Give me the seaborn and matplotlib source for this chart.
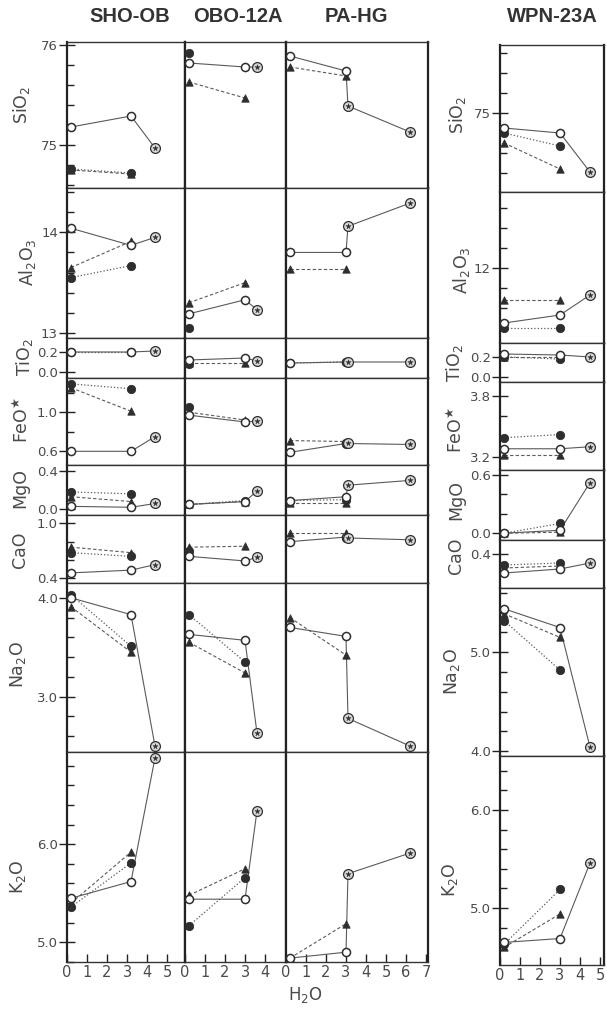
import numpy as np
import seaborn as sns
import matplotlib.pyplot as plt

sns.set_theme(style='white')
plt.rcParams['font.family'] = ['DejaVu Sans']
plt.rcParams['mathtext.fontset'] = 'dejavusans'

W, H = 607, 1010

OXIDE_LABELS = ['SiO$_2$', 'Al$_2$O$_3$', 'TiO$_2$', r'FeO$^{\bigstar}$', 'MgO', 'CaO', 'Na$_2$O', 'K$_2$O']

# H2O of the runs (wt%), star = final circled-star point
SHO_X = [0.2, 3.2]
SHO_STAR_X = [4.4]
OBO_X = [0.2, 3.0]
OBO_STAR_X = [3.6]
PA_X = [0.2, 3.0]
PA_STAR_X = [3.1, 6.2]
WPN_X = [0.2, 3.0]
WPN_STAR_X = [4.5]

nan = np.nan
# order: SiO2, Al2O3, TiO2, FeO*, MgO, CaO, Na2O, K2O
SHO_OPEN = [[75.18, 75.29], [14.04, 13.87], [0.20, 0.20], [0.60, 0.60], [0.03, 0.02], [0.46, 0.49], [4.00, 3.83], [5.45, 5.62]]
SHO_FILLED = [[74.76, 74.72], [13.55, 13.67], [0.20, 0.20], [1.29, 1.24], [0.18, 0.16], [0.68, 0.64], [4.03, 3.51], [5.36, 5.81]]
SHO_TRI = [[74.75, 74.71], [13.65, 13.91], [nan, nan], [1.25, 1.01], [0.13, 0.08], [0.74, 0.68], [3.91, 3.45], [5.40, 5.92]]
SHO_STAR = [[74.97], [13.95], [0.21], [0.75], [0.06], [0.55], [2.50], [6.88]]

OBO_OPEN = [[75.82, 75.78], [13.19, 13.33], [0.12, 0.14], [0.97, 0.90], [0.05, 0.08], [0.64, 0.59], [3.63, 3.57], [5.44, 5.44]]
OBO_FILLED = [[75.92, nan], [13.05, nan], [0.08, nan], [1.05, nan], [0.05, 0.09], [0.70, nan], [3.83, 3.35], [5.17, 5.66]]
OBO_TRI = [[75.63, 75.47], [13.30, 13.50], [0.09, 0.09], [1.00, 0.92], [0.05, 0.08], [0.74, 0.75], [3.55, 3.24], [5.48, 5.75]]
OBO_STAR = [[75.78], [13.23], [0.11], [0.91], [0.19], [0.63], [2.63], [6.34]]

PA_OPEN = [[75.89, 75.74], [13.80, 13.80], [0.09, 0.10], [0.59, 0.68], [0.09, 0.13], [0.80, 0.85], [3.70, 3.61], [4.84, 4.90]]
PA_FILLED = [[nan, nan], [nan, nan], [0.09, 0.10], [nan, 0.67], [0.09, 0.10], [nan, 0.84], [nan, nan], [nan, nan]]
PA_TRI = [[75.78, 75.69], [13.64, 13.64], [nan, nan], [0.71, 0.70], [0.07, 0.07], [0.89, 0.89], [3.80, 3.42], [4.84, 5.19]]
PA_STAR = [[75.39, 75.13], [14.06, 14.29], [0.10, 0.10], [0.68, 0.67], [0.25, 0.30], [0.84, 0.82], [2.78, 2.50], [5.70, 5.91]]

WPN_OPEN = [[74.85, 74.80], [11.45, 11.53], [0.23, 0.22], [3.28, 3.28], [0.00, 0.03], [0.21, 0.25], [5.44, 5.25], [4.65, 4.69]]
WPN_FILLED = [[74.80, 74.67], [11.40, 11.40], [0.20, 0.18], [3.39, 3.42], [0.00, 0.10], [0.29, 0.31], [5.32, 4.82], [4.63, 5.19]]
WPN_TRI = [[74.70, 74.44], [11.68, 11.68], [0.20, 0.20], [3.22, 3.22], [0.00, 0.01], [0.26, 0.28], [5.39, 5.15], [4.60, 4.94]]
WPN_STAR = [[74.41], [11.73], [0.20], [3.30], [0.52], [0.31], [4.04], [5.46]]

# y ranges and labelled ticks
LEFT_YLIM = [(74.57, 76.03), (12.95, 14.44), (-0.06, 0.34), (0.46, 1.35), (-0.06, 0.46), (0.35, 1.09), (2.44, 4.15), (4.80, 6.94)]
WPN_YLIM = [(74.21, 75.68), (11.25, 12.76), (-0.05, 0.34), (3.07, 3.94), (-0.07, 0.65), (0.06, 0.54), (3.95, 5.65), (4.42, 6.55)]
LEFT_TICKS = [[75, 76], [13, 14], [0.0, 0.2], [0.6, 1.0], [0.0, 0.4], [0.4, 1.0], [3.0, 4.0], [5.0, 6.0]]
LEFT_TICKLABELS = [['75', '76'], ['13', '14'], ['0.0', '0.2'], ['0.6', '1.0'], ['0.0', '0.4'], ['0.4', '1.0'], ['3.0', '4.0'], ['5.0', '6.0']]
WPN_TICKS = [[75], [12], [0.0, 0.2], [3.2, 3.8], [0.0, 0.6], [0.4], [4.0, 5.0], [5.0, 6.0]]
WPN_TICKLABELS = [['75'], ['12'], ['0.0', '0.2'], ['3.2', '3.8'], ['0.0', '0.6'], ['0.4'], ['4.0', '5.0'], ['5.0', '6.0']]

# layout in pixels
LEFT_ROWS = [42, 188, 338, 378, 465, 515, 583, 752, 962]
WPN_ROWS = [45, 192, 343, 382, 470, 540, 588, 756, 965]

LINE = '#5a5a5a'
MARK = '#2e2e2e'
TXT = '#4a4a4a'

fig = plt.figure(figsize=(W / 100, H / 100), dpi=100)


def px_axes(x0, y0, x1, y1):
    return fig.add_axes([x0 / W, 1 - y1 / H, (x1 - x0) / W, (y1 - y0) / H])


def draw(ax, xs, sxs, opn, fil, tri, star):
    sns.lineplot(x=xs + sxs, y=opn + star, ax=ax, estimator=None, sort=False,
                 color=LINE, lw=0.8, ls='-')
    sns.lineplot(x=xs, y=fil, ax=ax, estimator=None, sort=False, color=LINE, lw=0.9, ls=':')
    sns.lineplot(x=xs, y=tri, ax=ax, estimator=None, sort=False, color=LINE, lw=0.8, ls=(0, (3, 2)))
    sns.scatterplot(x=xs, y=tri, ax=ax, marker='^', s=28, color=MARK, edgecolor=MARK, linewidth=0.6, zorder=5)
    sns.scatterplot(x=xs, y=fil, ax=ax, marker='o', s=36, color=MARK, edgecolor=MARK, linewidth=0.6, zorder=6)
    sns.scatterplot(x=xs, y=opn, ax=ax, marker='o', s=34, color='white', edgecolor=MARK, linewidth=1.1, zorder=7)
    sns.scatterplot(x=sxs, y=star, ax=ax, marker='o', s=50, color='#d8d8d8', edgecolor=MARK, linewidth=0.9, zorder=7)
    sns.scatterplot(x=sxs, y=star, ax=ax, marker='*', s=16, color=MARK, edgecolor=MARK, linewidth=0.3, zorder=8)


def style(ax, row, ylim, xmax, xticks, yticks=None, ylabels=None):
    ax.set_xlim(0, xmax)
    ax.set_ylim(*ylim)
    ax.set_xlabel('')
    ax.set_ylabel('')
    for side in ['left', 'right']:
        ax.spines[side].set_linewidth(1.6)
        ax.spines[side].set_color('#222222')
    for side in ['top', 'bottom']:
        ax.spines[side].set_linewidth(1.0)
        ax.spines[side].set_color('#333333')
    if yticks is not None:
        ax.set_yticks(yticks, ylabels)
        lo = np.ceil(ylim[0] / 0.2 - 1e-6) * 0.2
        if row != 2:
            ax.set_yticks(np.arange(lo, ylim[1], 0.2), minor=True)
        ax.tick_params(axis='y', which='major', left=True, direction='inout', length=11, width=1.0,
                       color='#222222', labelsize=9.5, labelcolor=TXT, pad=1)
        ax.tick_params(axis='y', which='minor', left=True, direction='in', length=5, width=1.0,
                       color='#222222')
    else:
        ax.set_yticks([])
    if row == 7:
        ax.set_xticks(xticks, [str(t) for t in xticks])
        ax.tick_params(axis='x', which='major', bottom=True, direction='in', length=6, width=1.0,
                       color='#222222', labelsize=10.5, labelcolor=TXT, pad=2)
    else:
        ax.set_xticks([])


LEFT_COLS = [
    (67, 185, 5.9, list(range(6)), SHO_X, SHO_STAR_X, SHO_OPEN, SHO_FILLED, SHO_TRI, SHO_STAR, True),
    (185, 286, 5.05, list(range(5)), OBO_X, OBO_STAR_X, OBO_OPEN, OBO_FILLED, OBO_TRI, OBO_STAR, False),
    (286, 428, 7.1, list(range(8)), PA_X, PA_STAR_X, PA_OPEN, PA_FILLED, PA_TRI, PA_STAR, False),
]

for x0, x1, xmax, xt, xs, sxs, opn, fil, tri, star, ylab in LEFT_COLS:
    for r in range(8):
        ax = px_axes(x0, LEFT_ROWS[r], x1, LEFT_ROWS[r + 1])
        draw(ax, xs, sxs, opn[r], fil[r], tri[r], star[r])
        if ylab:
            style(ax, r, LEFT_YLIM[r], xmax, xt, LEFT_TICKS[r], LEFT_TICKLABELS[r])
        else:
            style(ax, r, LEFT_YLIM[r], xmax, xt)

for r in range(8):
    ax = px_axes(500, WPN_ROWS[r], 604, WPN_ROWS[r + 1])
    draw(ax, WPN_X, WPN_STAR_X, WPN_OPEN[r], WPN_FILLED[r], WPN_TRI[r], WPN_STAR[r])
    style(ax, r, WPN_YLIM[r], 5.2, list(range(6)), WPN_TICKS[r], WPN_TICKLABELS[r])

# oxide labels
LEFT_LABEL_POS = [(22, 105), (27, 262), (25, 357), (22, 420), (20, 488), (20, 550), (18, 665), (18, 877)]
WPN_LABEL_POS = [(457, 115), (462, 270), (455, 363), (456, 430), (456, 500), (456, 556), (452, 672), (450, 880)]
for lbl, (lx, ly), (wx, wy) in zip(OXIDE_LABELS, LEFT_LABEL_POS, WPN_LABEL_POS):
    fig.text(lx / W, 1 - ly / H, lbl, rotation=90, ha='center', va='center', fontsize=12.5, color=TXT)
    fig.text(wx / W, 1 - wy / H, lbl, rotation=90, ha='center', va='center', fontsize=12.5, color=TXT)

# sample titles
for name, tx in [('SHO-OB', 130), ('OBO-12A', 238), ('PA-HG', 356), ('WPN-23A', 552)]:
    fig.text(tx / W, 1 - 16 / H, name, ha='center', va='center', fontsize=14.5,
             fontweight='bold', family=['Liberation Sans', 'DejaVu Sans'], color='#333333')

fig.text(305 / W, 1 - 995 / H, 'H$_2$O', ha='center', va='center', fontsize=12, color=TXT)

fig.savefig('out.png', dpi=100, facecolor='white')
